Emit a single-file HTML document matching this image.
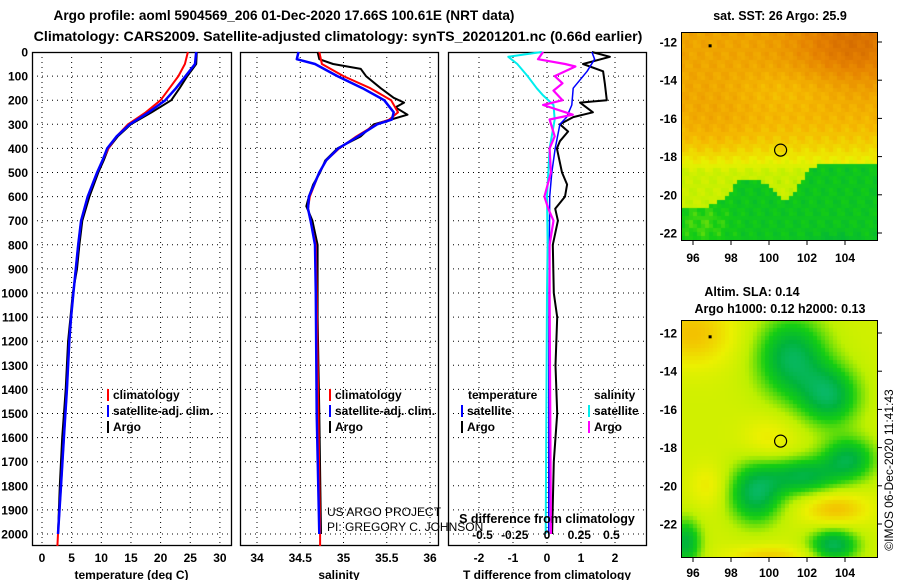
<!DOCTYPE html>
<html><head><meta charset="utf-8">
<style>
body{margin:0;background:#fff;}
#wrap{position:relative;width:900px;height:580px;overflow:hidden;font-family:"Liberation Sans",sans-serif;}
svg text{font-family:"Liberation Sans",sans-serif;}
canvas{position:absolute;}
</style></head>
<body>
<div id="wrap">
<canvas id="sstMap" width="196" height="208" style="left:681px;top:32px;"></canvas>
<canvas id="slaMap" width="196" height="237" style="left:681px;top:320px;"></canvas>
<svg id="fig" width="900" height="580" style="position:absolute;left:0;top:0"></svg>
</div>
<script>
// ---- data ----
const depthT = [0,50,100,150,200,250,300,350,400,450,500,600,700,800,900,1000,1100,1200,1400,1600,1800,2000];
const argoTemp = [26.1,26.0,24.5,23.2,21.8,18.5,15.0,12.8,11.2,10.4,9.5,8.0,6.8,6.3,5.9,5.2,4.8,4.4,4.0,3.4,3.0,2.7];
const depthClim = [0,50,100,150,200,250,300,350,400,450,500,600,700,800,900,1000,1100,1200,1400,1600,1800,2000,2050];
const climTemp = [24.6,24.1,23.0,21.5,20.0,17.5,14.5,12.6,11.2,10.2,9.3,7.7,6.6,6.1,5.7,5.3,4.9,4.6,4.2,3.7,3.2,2.7,2.6];
const depthSat = [0,50,100,150,200,250,300,350,400,450,500,600,700,800,900,1000,1100,1200,1400,1600,1800,2000];
const satTemp = [26.0,25.8,24.2,22.6,20.8,18.0,14.8,12.6,11.0,10.2,9.3,7.7,6.6,6.1,5.7,5.3,4.9,4.6,4.2,3.7,3.2,2.7];

const depthS = [0,30,50,70,100,150,190,210,230,260,280,300,350,400,450,500,550,600,640,700,750,800,1100,1500,2000];
const argoSal = [34.70,34.72,34.88,35.2,35.26,35.43,35.58,35.70,35.6,35.74,35.55,35.35,35.2,34.93,34.79,34.73,34.65,34.6,34.57,34.64,34.67,34.70,34.70,34.72,34.74];
const depthSc = [0,50,100,150,200,250,280,300,350,400,450,500,600,650,700,800,1000,2000,2050];
const climSal = [34.72,34.75,35.0,35.31,35.55,35.63,35.53,35.38,35.15,34.95,34.80,34.72,34.61,34.59,34.62,34.68,34.69,34.73,34.73];
const depthSs = [0,30,50,100,150,200,250,280,300,350,400,450,500,600,650,700,800,1000,1500,2000];
const satSal = [34.48,34.46,34.67,34.93,35.22,35.47,35.58,35.56,35.39,35.17,34.94,34.80,34.72,34.60,34.59,34.62,34.67,34.68,34.69,34.72];

const depthD = [0,20,50,80,130,200,210,250,270,300,330,370,400,500,550,600,650,700,800,1000,1100,1300,1500,1700,2000];
const argoTdiff = [1.32,1.85,1.06,1.65,1.7,1.76,0.97,1.35,0.77,0.38,0.62,0.38,0.29,0.44,0.59,0.53,0.24,0.32,0.17,0.2,0.3,0.25,0.3,0.2,0.15];
const depthDs = [0,30,80,150,220,270,300,400,500,600,800,1000,2000];
const satTdiff = [1.32,1.4,1.18,0.77,0.73,0.58,0.38,0.24,0.14,0.08,0.07,0.06,0.05];
const depthCs = [0,20,50,100,150,180,220,280,400,500,600,800,1000,2000];
const satSdiff = [-0.04,-0.30,-0.23,-0.15,-0.08,-0.03,0.05,0.06,0.02,0.01,0,0.005,0,-0.01];
const depthMs = [0,30,50,60,100,130,160,200,220,260,280,350,400,500,600,650,700,800,1000,2000];
const argoSdiff = [-0.03,-0.07,0.14,0.22,0.06,0.12,0.05,0.12,-0.03,0.2,0.02,0.06,0.02,0.03,-0.02,0.01,0.05,0.02,0.02,0.03];

const depthTicks = [0,100,200,300,400,500,600,700,800,900,1000,1100,1200,1300,1400,1500,1600,1700,1800,1900,2000];
const tempTicks = [0,5,10,15,20,25,30];
const salTicks = [34,34.5,35,35.5,36];
const tdTicks = [-2,-1,0,1,2];
const sdTicks = [-0.5,-0.25,0,0.25,0.5];
const latTicks = [-12,-14,-16,-18,-20,-22];
const lonTicks = [96,98,100,102,104];

// ---- axes ----
const yD = d => 52 + d*0.241;
const xT = t => 42 + t*5.93;
const xS = s => 257 + (s-34)*86.5;
const xTd = v => 547 + v*34;
const xSd = v => 547 + v*129;
const PT=52, PB=545;
const panels=[[32,231],[240,438],[448,646]];

const svg=document.getElementById('fig');
const NS='http://www.w3.org/2000/svg';
function mk(tag,attrs,parent){const e=document.createElementNS(NS,tag);for(const k in attrs)e.setAttribute(k,attrs[k]);(parent||svg).appendChild(e);return e;}
function txt(x,y,s,size,anchor,weight,parent){const t=mk('text',{x:x,y:y,'font-size':size,'text-anchor':anchor||'middle','font-weight':weight||'bold',fill:'#000'},parent);t.textContent=s;return t;}

// titles
let t1=txt(284,20,'Argo profile: aoml 5904569_206 01-Dec-2020 17.66S 100.61E (NRT data)',13.6);


let t2=txt(338,41,'Climatology: CARS2009. Satellite-adjusted climatology: synTS_20201201.nc (0.66d earlier)',14.2);



// panels & grids
const xfun=[xT,xS,xTd], xticks=[tempTicks,salTicks,tdTicks];
const xtitles=['temperature (deg C)','salinity','T difference from climatology'];
panels.forEach((p,i)=>{
  const g=mk('g',{});
  
  
  depthTicks.forEach(d=>{ if(d>0){const l=mk('line',{x1:p[0],x2:p[1],y1:yD(d),y2:yD(d),stroke:'#000','stroke-width':1,'stroke-dasharray':'1,4'},g);
    
    }});
  xticks[i].forEach(v=>{const x=xfun[i](v);
    const l=mk('line',{x1:x,x2:x,y1:PT,y2:PB,stroke:'#000','stroke-width':1,'stroke-dasharray':'1,4'},g);
    
    
    const tl=txt(x,562,String(v),12,'middle','bold',g);
    
    });
  const r=mk('rect',{x:p[0]+0.5,y:PT+0.5,width:p[1]-p[0],height:PB-PT,fill:'none',stroke:'#000','stroke-width':1.3},g);
  
  
  const at=txt((p[0]+p[1])/2,579,xtitles[i],12,'middle','bold',g);
  
  
});
depthTicks.forEach(d=>{const tl=txt(28,yD(d)+4.5,String(d),12,'end','bold');
  
  });

function series(xs,ds,fx,color,w,name){
  const pts=xs.map((v,i)=>fx(v).toFixed(1)+','+yD(ds[i]).toFixed(1)).join(' ');
  const pl=mk('polyline',{points:pts,fill:'none',stroke:color,'stroke-width':w,'stroke-linejoin':'round'});
  
  
}
series(argoTemp,depthT,xT,'#000',2,'argo-temperature-line');
series(climTemp,depthClim,xT,'#f00',2,'climatology-temperature-line');
series(satTemp,depthSat,xT,'#00f',2.5,'satellite-temperature-line');
series(argoSal,depthS,xS,'#000',2,'argo-salinity-line');
series(climSal,depthSc,xS,'#f00',2,'climatology-salinity-line');
series(satSal,depthSs,xS,'#00f',2.5,'satellite-salinity-line');
series(argoTdiff,depthD,xTd,'#000',2,'argo-t-diff-line');
series(satTdiff,depthDs,xTd,'#00f',1.5,'satellite-t-diff-line');
series(satSdiff,depthCs,xSd,'#0ee',2,'satellite-s-diff-line');
series(argoSdiff,depthMs,xSd,'#f0f',2.2,'argo-s-diff-line');

// S diff top-scale labels
sdTicks.forEach(v=>{const tl=txt(xSd(v),539,String(v),12,'middle','bold');
  
  });
let sdt=txt(547,523,'S difference from climatology',12.5);



// legends
function legend(x,y,color,label){
  const g=mk('g',{});
  
  
  mk('rect',{x:x,y:y-10,width:2,height:12,fill:color},g);
  txt(x+6,y,label,12,'start','bold',g);
}
legend(107,399,'#f00','climatology');legend(107,415,'#00f','satellite-adj. clim.');legend(107,431,'#000','Argo');
legend(329,399,'#f00','climatology');legend(329,415,'#00f','satellite-adj. clim.');legend(329,431,'#000','Argo');
let lh1=txt(468,399,'temperature',12,'start');
let lh2=txt(594,399,'salinity',12,'start');
legend(461,415,'#00f','satellite');legend(461,431,'#000','Argo');
legend(588,415,'#0ee','satellite');legend(588,431,'#f0f','Argo');

let c1=txt(327,516,'US ARGO PROJECT',12,'start','normal');
let c2=txt(327,531,'PI: GREGORY C. JOHNSON',12,'start','normal');

// ---- maps ----
const MX=681,MW=196;
const lonX=lon=>693+(lon-96)*19;
const maps=[{top:32,h:208,lat0:42,title:['sat. SST: 26 Argo: 25.9'],ty:[20],lonY:262},
            {top:320,h:237,lat0:333,title:['Altim. SLA: 0.14','Argo h1000: 0.12 h2000: 0.13'],ty:[296,313],lonY:577}];
maps.forEach((m,i)=>{
  const g=mk('g',{});
  
  
  mk('rect',{x:MX+0.5,y:m.top+0.5,width:MW,height:m.h,fill:'none',stroke:'#000','stroke-width':1},g);
  latTicks.forEach(l=>{const y=m.lat0+(-12-l)*19.1;
    mk('line',{x1:MX+MW,x2:MX+MW+5,y1:y,y2:y,stroke:'#000'},g);
    txt(677,y+4.5,String(l),12,'end','bold',g);});
  lonTicks.forEach(l=>{const x=lonX(l);
    mk('line',{x1:x,x2:x,y1:m.top+m.h,y2:m.top+m.h+5,stroke:'#000'},g);
    txt(x,m.lonY,String(l),12,'middle','bold',g);});
  m.title.forEach((s,k)=>txt(k===0&&i===1?752:780,m.ty[k],s,12.5,'middle','bold',g));
  const cy=m.lat0+5.66*19.1, cx=lonX(100.61);
  const c=mk('circle',{cx:cx,cy:cy,r:6,fill:'none',stroke:'#000','stroke-width':1.2},g);
  
  
  mk('rect',{x:lonX(96.9)-1.5,y:m.lat0+0.2*19.1-1.5,width:3,height:3,fill:'#000'},g);
});
let cr=mk('text',{x:0,y:0,'font-size':12,'text-anchor':'middle',transform:'translate(893,470) rotate(-90)',fill:'#000'});
cr.textContent='©IMOS 06-Dec-2020 11:41:43';



// colour ramp
const stops=[[0,[30,210,210]],[0.12,[10,185,110]],[0.2,[0,180,60]],[0.3,[20,205,20]],[0.42,[190,240,0]],[0.52,[235,240,0]],[0.65,[245,185,0]],[0.82,[230,130,0]],[1,[195,85,0]]];
function col(t){t=Math.max(0,Math.min(1,t));for(let k=1;k<stops.length;k++){if(t<=stops[k][0]){const a=stops[k-1],b=stops[k],f=(t-a[0])/(b[0]-a[0]);return a[1].map((c,j)=>Math.round(c+(b[1][j]-c)*f));}}return stops[stops.length-1][1];}
function gauss(lon,lat,cx,cy,sx,sy){return Math.exp(-((lon-cx)**2/(2*sx*sx)+(lat-cy)**2/(2*sy*sy)));}
const bLon=[95,96.5,97.5,98.5,99.5,100.2,100.8,101.5,102.2,103,106];
const bLat=[-20.7,-20.7,-20.3,-19.2,-19.2,-19.8,-20.4,-19.6,-18.6,-18.3,-18.3];
function bound(lon){for(let k=1;k<bLon.length;k++){if(lon<=bLon[k]){const f=(lon-bLon[k-1])/(bLon[k]-bLon[k-1]);return bLat[k-1]+(bLat[k]-bLat[k-1])*f;}}return -18.3;}
function sst(lon,lat){
  const n=0.03*Math.sin(lon*7.3+lat*3.1)*Math.cos(lat*5.7);
  if(lat<bound(lon)) {let v=0.27-0.25*gauss(lon,lat,103.5,-23.4,0.9,0.6)+0.06*gauss(lon,lat,96.5,-21.5,1,0.8); return v+n;}
  let v=0.44+0.28*(1-Math.exp(-Math.max(0,lat+18.8)/1.8))+0.17*gauss(lon,lat,104.5,-12,2.2,1.5)+0.04*gauss(lon,lat,97,-16.5,1.5,1.5)-0.05*gauss(lon,lat,101,-14.5,2,0.8);
  return v+n;
}
function sla(lon,lat){
  let v=0.46;
  v-=0.3*gauss(lon,lat,101.2,-13.3,1.3,1.5)+0.28*gauss(lon,lat,103.2,-15.3,1.1,1.1);
  v-=0.3*gauss(lon,lat,99.3,-20.4,1.0,1.1)+0.26*gauss(lon,lat,101.8,-19.5,1.3,0.7)+0.26*gauss(lon,lat,104.2,-18.6,1,0.8);
  v-=0.3*gauss(lon,lat,103.4,-23.1,0.9,0.6)+0.26*gauss(lon,lat,95.6,-23,0.6,0.9);
  v+=0.17*gauss(lon,lat,96,-12,1.5,1.2)+0.17*gauss(lon,lat,103.5,-21.2,1.2,0.6)+0.14*gauss(lon,lat,100,-23.7,1.5,0.4)+0.08*gauss(lon,lat,100,-17.5,1,0.8)+0.08*gauss(lon,lat,96.8,-20,0.7,0.8);
  return v;
}
function paint(id,m,fn,cell){
  const cv=document.getElementById(id),ctx=cv.getContext('2d');
  for(let py=0;py<cv.height;py+=cell)for(let px=0;px<cv.width;px+=cell){
    const lon=96+(MX+px+cell/2-693)/19, lat=-12-(m.top+py+cell/2-m.lat0)/19.1;
    const c=col(fn(lon,lat));ctx.fillStyle='rgb('+c.join(',')+')';ctx.fillRect(px,py,cell,cell);}
}
paint('sstMap',maps[0],sst,4);
paint('slaMap',maps[1],sla,4);
</script>
</body></html>
